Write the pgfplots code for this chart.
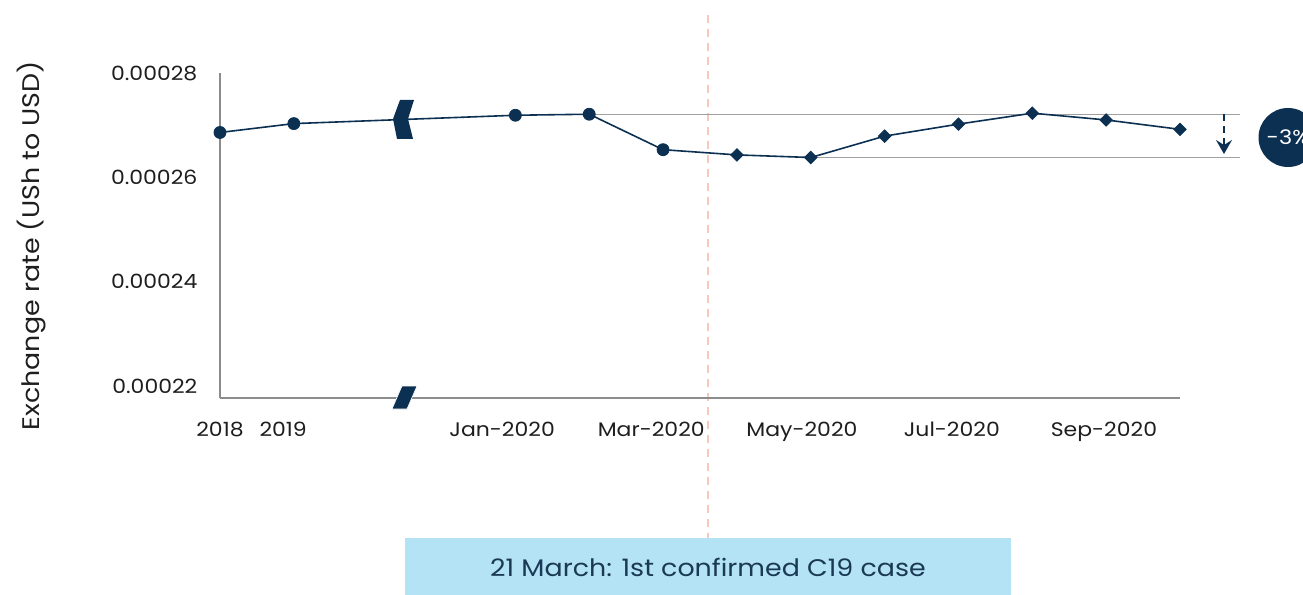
\documentclass[border=0pt]{standalone}
\usepackage{pgfplots}
\pgfplotsset{compat=1.18}
\usepackage{fontspec}
\setmainfont{Poppins}[FakeStretch=1.12]
\usetikzlibrary{arrows.meta}
\definecolor{navy}{HTML}{0B3052}
\definecolor{lblue}{HTML}{B3E3F5}
\definecolor{pinkd}{HTML}{F6C9BC}
\definecolor{axgray}{HTML}{8C8C8C}
\definecolor{refgray}{HTML}{A0A0A0}
\definecolor{txt}{HTML}{1E1E1E}
\definecolor{boxtxt}{HTML}{1B3954}
\begin{document}
\begin{tikzpicture}
\useasboundingbox (-110pt,-98.5pt) rectangle (541.5pt,199pt);
\begin{scope}[x=0.5pt,y=-0.5pt,shift={(-110pt,199pt)}]
  \draw[pinkd, line width=1pt, dash pattern=on 4pt off 3pt] (708,15) -- (708,538);
  \fill[lblue] (405,538) rectangle (1011,600);
  \node[text=boxtxt, font=\fontsize{12}{14}\selectfont] at (708,567) {21 March: 1st confirmed C19 case};
\end{scope}
\begin{axis}[
  at={(0,0)}, anchor=south west,
  scale only axis, width=480pt, height=162.5pt,
  xmin=0, xmax=13, ymin=0.0002177, ymax=0.00028,
  clip=false,
  axis x line=bottom, axis y line=left,
  axis line style={-, draw=axgray, line width=0.8pt},
  tick style={draw=none},
  ytick={0.00022,0.00024,0.00026,0.00028},
  scaled y ticks=false,
  yticklabel style={/pgf/number format/.cd, fixed, precision=5, fixed zerofill, assume math mode=true, /tikz/.cd, font=\fontsize{9.8}{11}\selectfont, text=txt, anchor=east, inner sep=0pt, xshift=-9pt},
  xtick={0,0.855,3.82,5.84,7.88,9.91,11.97},
  xticklabels={2018,2019,Jan-2020,Mar-2020,May-2020,Jul-2020,Sep-2020},
  xticklabel style={font=\fontsize{9.8}{11}\selectfont, text=txt, anchor=base, inner sep=0pt, yshift=-17pt},
  ylabel={Exchange rate (USh to USD)},
  ylabel style={at={(axis description cs:-0.196,0.468)}, anchor=center, font=\fontsize{12}{14}\selectfont, text=txt},
]
\addplot[refgray, line width=0.6pt, no marks] coordinates {(5,0.0002721)(13.81,0.0002721)};
\addplot[refgray, line width=0.6pt, no marks] coordinates {(8,0.0002638)(13.81,0.0002638)};
\addplot[navy, line width=0.8pt, no marks] coordinates {(0,0.0002686)(1,0.0002703)(4,0.0002719)(5,0.0002721)(6,0.0002653)(7,0.0002643)(8,0.0002638)(9,0.0002679)(10,0.0002702)(11,0.0002723)(12,0.0002710)(13,0.0002692)};
\addplot[navy, only marks, mark=*, mark size=3pt] coordinates {(0,0.0002686)(1,0.0002703)(4,0.0002719)(5,0.0002721)(6,0.0002653)};
\addplot[navy, only marks, mark=square*, mark size=2.2pt, mark options={rotate=45}] coordinates {(7,0.0002643)(8,0.0002638)(9,0.0002679)(10,0.0002702)(11,0.0002723)(12,0.0002710)(13,0.0002692)};
\end{axis}
\begin{scope}[x=0.5pt,y=-0.5pt,shift={(-110pt,199pt)}]
  \fill[navy] (400,100) -- (414,100) -- (408,119) -- (413,139) -- (397,139) -- (393,119) -- cycle;
  \filldraw[navy, draw=white, line width=0.3pt] (402,386) -- (417,386) -- (407,409) -- (392,409) -- cycle;
  \draw[navy, line width=0.8pt, dash pattern=on 3.5pt off 2.5pt, -{Stealth[width=8pt,length=7pt,inset=2.5pt]}] (1224,114) -- (1224,154);
  \fill[navy] (1288,137.5) circle[radius=14.75pt];
  \node[text=white, font=\fontsize{10}{12}\selectfont] at (1288,137.5) {-3\%};
\end{scope}
\end{tikzpicture}
\end{document}
